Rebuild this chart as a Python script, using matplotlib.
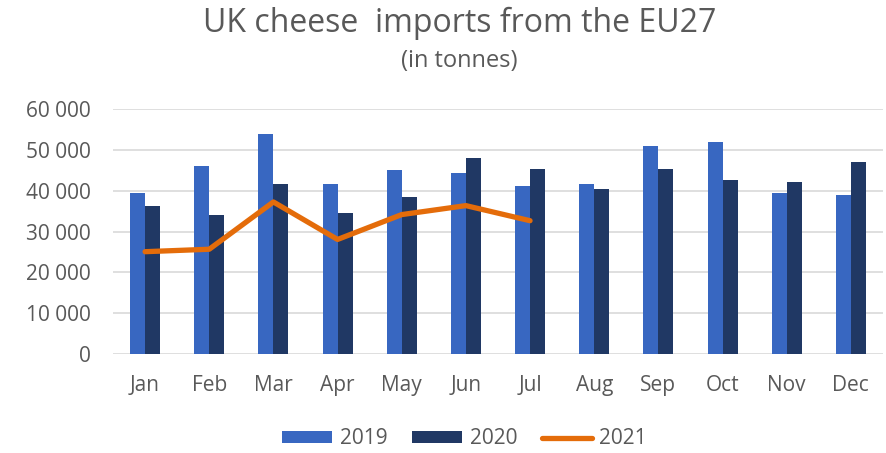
import numpy as np
import matplotlib.pyplot as plt
from matplotlib.ticker import FuncFormatter

# monthly UK cheese imports from the EU27, tonnes
months = ['Jan', 'Feb', 'Mar', 'Apr', 'May', 'Jun', 'Jul', 'Aug', 'Sep', 'Oct', 'Nov', 'Dec']
imports_2019 = [39400, 46100, 53900, 41700, 45100, 44500, 41300, 41700, 51100, 52000, 39500, 39100]
imports_2020 = [36300, 34200, 41700, 34700, 38500, 48000, 45400, 40400, 45400, 42600, 42300, 47000]
imports_2021 = [25100, 25700, 37300, 28100, 34200, 36400, 32700]

text_color = '#595959'
plt.rcParams['font.family'] = ['Open Sans', 'DejaVu Sans']

fig = plt.figure(figsize=(8.87, 4.53), dpi=100)
ax = fig.add_axes([0.1274, 0.2185, 0.868, 0.540])

x = np.arange(len(months))
w = 0.234
b19 = ax.bar(x - w / 2, imports_2019, width=w, color='#3867C1', label='2019', zorder=2)
b20 = ax.bar(x + w / 2, imports_2020, width=w, color='#203864', label='2020', zorder=2)
l21, = ax.plot(x[:len(imports_2021)], imports_2021, color='#E46C0A', linewidth=3.8,
               solid_capstyle='round', solid_joinstyle='round', label='2021', zorder=3)

ax.set_xlim(-0.5, len(months) - 0.5)
ax.set_ylim(0, 60000)
ax.set_yticks(np.arange(0, 60001, 10000))
ax.yaxis.set_major_formatter(FuncFormatter(lambda v, p: f'{int(v):,}'.replace(',', ' ')))
ax.set_xticks(x)
ax.set_xticklabels(months)
ax.tick_params(axis='both', length=0, labelsize=15, colors=text_color)
ax.tick_params(axis='x', pad=15)
ax.tick_params(axis='y', pad=16)
ax.grid(axis='y', color='#D9D9D9', linewidth=1.2, zorder=0)
for s in ax.spines.values():
    s.set_visible(False)

fig.text(0.518, 0.948, 'UK cheese  imports from the EU27', ha='center', va='center',
         fontsize=23, color=text_color)
fig.text(0.518, 0.866, '(in tonnes)', ha='center', va='center', fontsize=17, color=text_color)

fig.legend([b19, b20, l21], ['2019', '2020', '2021'], loc='center',
           bbox_to_anchor=(0.524, 0.031), ncol=3, frameon=False,
           fontsize=15, labelcolor=text_color, handlelength=2.4, handleheight=0.56,
           columnspacing=1.2, handletextpad=0.35)

plt.savefig('out.png', dpi=100)
